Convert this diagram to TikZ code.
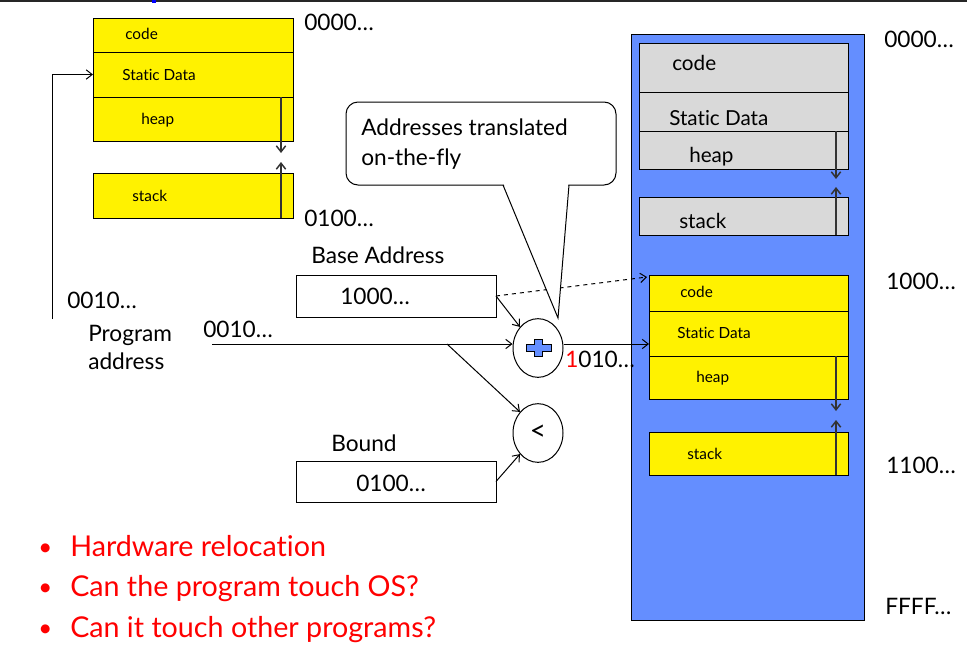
\documentclass[tikz,border=0pt]{standalone}
\usepackage{fontspec}
\setmainfont{Lato}[Ligatures=NoCommon]
\usetikzlibrary{arrows.meta,shapes.geometric,fit,calc}
\definecolor{memblue}{RGB}{100,142,255}
\definecolor{grayblk}{RGB}{217,217,217}
\begin{document}
\begin{tikzpicture}[x=0.75pt,y=-0.75pt,
  blk/.style={draw, line width=0.75pt, inner sep=0pt, outer sep=0pt},
  yblk/.style={blk, fill=yellow},
  gblk/.style={blk, fill=grayblk},
  arr/.style={-{Straight Barb[length=4.5pt,width=7pt]}, line width=0.75pt},
  growarr/.style={-{Straight Barb[length=4.5pt,width=7pt]}, line width=1.1pt, black!80},
  smallt/.style={font=\fontsize{11.5}{13}\selectfont, anchor=base west, inner sep=0pt},
  midt/.style={font=\fontsize{15.5}{18}\selectfont, anchor=base west, inner sep=0pt},
  lbl/.style={font=\fontsize{17}{20}\selectfont, anchor=base west, inner sep=0pt},
  bul/.style={font=\fontsize{21.5}{25}\selectfont, anchor=base west, inner sep=0pt, text=red}
]
\useasboundingbox (0,0) rectangle (967,650);
% top rule of the slide
\draw[line width=1.5pt, black!85] (0,1) -- (967,1);
\fill[blue] (152,0) rectangle (156,3);

% ---------- left program image ----------
\node[yblk, fit={(93,18)(293,52)}] (lcode) {};
\node[yblk, fit={(93,52)(293,97)}] (lstatic) {};
\node[yblk, fit={(93,97)(293,141)}] (lheap) {};
\node[yblk, fit={(93,173)(293,218)}] (lstack) {};
\draw[growarr] ($(lheap.north east)+(-12,0)$) -- ($(lheap.south east)+(-12,12)$);
\draw[growarr] ($(lstack.south east)+(-12,0)$) -- ($(lstack.north east)+(-12,-11)$);
\node[smallt] (lcodet) at (125,39) {code};
\node[smallt] (lstatict) at (122,80) {Static Data};
\node[smallt] (lheapt) at (141,124) {heap};
\node[smallt] (lstackt) at (132,201) {stack};
\node[lbl] (la0) at (304,30) {0000…};
\node[lbl] (la1) at (304,226) {0100…};

% ---------- right physical memory ----------
\node[blk, fill=memblue, fit={(631,34)(864,620)}] (mem) {};
\node[gblk, fit={(639,43)(848,92)}] (gcode) {};
\node[gblk, fit={(639,92)(848,131)}] (gstatic) {};
\node[gblk, fit={(639,131)(848,169)}] (gheap) {};
\node[gblk, fit={(639,197)(848,235)}] (gstack) {};
\draw[growarr] ($(gheap.north east)+(-12,0)$) -- ($(gheap.south east)+(-12,10)$);
\draw[growarr] ($(gstack.south east)+(-12,0)$) -- ($(gstack.north east)+(-12,-10)$);
\node[midt] (gcodet) at (672,70) {code};
\node[midt] (gstatict) at (669,125) {Static Data};
\node[midt] (gheapt) at (689,162) {heap};
\node[midt] (gstackt) at (679,228) {stack};

\node[yblk, fit={(649,275)(848,311)}] (rcode) {};
\node[yblk, fit={(649,311)(848,356)}] (rstatic) {};
\node[yblk, fit={(649,356)(848,399)}] (rheap) {};
\node[yblk, fit={(649,432)(848,475)}] (rstack) {};
\draw[growarr] ($(rheap.north east)+(-12,0)$) -- ($(rheap.south east)+(-12,12)$);
\draw[growarr] ($(rstack.south east)+(-12,0)$) -- ($(rstack.north east)+(-12,-12)$);
\node[smallt] (rcodet) at (680,297) {code};
\node[smallt] (rstatict) at (677,338) {Static Data};
\node[smallt] (rheapt) at (696,382) {heap};
\node[smallt] (rstackt) at (687,459) {stack};

\node[lbl] (ra0) at (884,47) {0000…};
\node[lbl] (ra1) at (886,289) {1000…};
\node[lbl] (ra2) at (886,473) {1100…};
\node[lbl] (ra3) at (885,614) {FFFF…};

% ---------- translation hardware ----------
\node[lbl] (baset) at (311,263) {Base Address};
\node[blk, fit={(296,275)(496,317)}] (base) {};
\node[lbl] (basev) at (340,304) {1000…};
\node[lbl] (boundt) at (331,451) {Bound};
\node[blk, fit={(296,461)(496,502)}] (bound) {};
\node[lbl] (boundv) at (356,491) {0100…};

\node[draw, ellipse, line width=0.75pt, minimum width=37.5pt, minimum height=44pt, inner sep=0pt] (plus) at (538,348) {};
\node[draw, ellipse, line width=0.75pt, minimum width=37.5pt, minimum height=44pt, inner sep=0pt, font=\fontsize{21}{24}\selectfont] (lt) at (538,433) {<};
\draw[fill=memblue, line width=0.75pt] (526,344) -- (534.5,344) -- (534.5,339) -- (542.5,339) -- (542.5,344) -- (551,344) -- (551,351) -- (542.5,351) -- (542.5,356) -- (534.5,356) -- (534.5,351) -- (526,351) -- cycle;

\node[lbl] (pa1) at (67,308) {0010…};
\node[lbl] (pname1) at (88,341) {Program};
\node[lbl] (pname2) at (88,369) {address};
\node[lbl] (pa2) at (203,337) {0010…};
\node[lbl] (phys) at (565,367) {\textcolor{red}{1}010…};

\coordinate (lstart) at (52,319);
\coordinate (pin) at (212,344);
\coordinate (split) at (447,344);

\draw[arr] (lstart) |- (lstatic.west);
\draw[arr] (pin) -- (pin -| plus.west);
\draw[arr] (split) -- (lt.north west);
\draw[arr] (base.east) -- (plus.north west);
\draw[arr] (bound.east) -- (lt.south west);
\draw[arr] (plus.east |- pin) -- (pin -| rstatic.west);
\draw[arr, dashed] (base.east) -- ($(rcode.north west)+(-2,2)$);

% ---------- callout ----------
\node[draw, rounded corners=9pt, line width=0.75pt, fill=white, inner sep=0pt, fit={(346,102)(616,185)}] (callout) {};
\fill[white] (503.5,183.5) -- (558,318) -- (568.5,183.5) -- cycle;
\draw[line width=0.75pt] (503,185) -- (558,318) -- (569,185);
\node[lbl] (callt1) at (361,135) {Addresses translated};
\node[lbl] (callt2) at (361,165) {on-the-fly};

% ---------- bullets ----------
\node[bul, font=\fontsize{18}{22}\selectfont] (b1) at (38,555) {•};
\node[bul, font=\fontsize{18}{22}\selectfont] (b2) at (38,595) {•};
\node[bul, font=\fontsize{18}{22}\selectfont] (b3) at (38,636) {•};
\node[bul] (b1t) at (70,556) {Hardware relocation};
\node[bul] (b2t) at (70,596) {Can the program touch OS?};
\node[bul] (b3t) at (70,637) {Can it touch other programs?};
\end{tikzpicture}
\end{document}
